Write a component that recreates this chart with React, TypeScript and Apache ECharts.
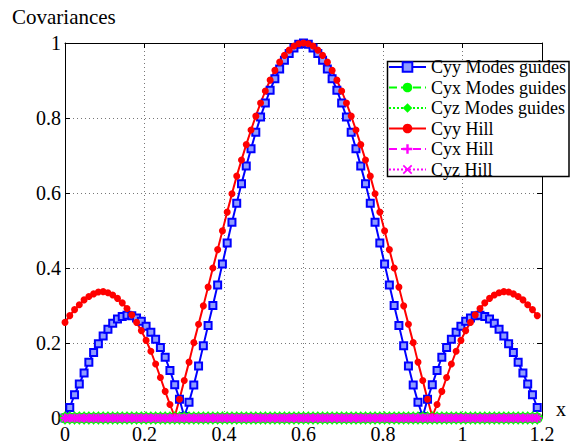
import React, { useEffect, useRef } from "react";
import * as echarts from "echarts";

const xs = [
  0, 0.012, 0.024, 0.036, 0.048, 0.06, 0.072, 0.084, 0.096, 0.108, 0.12, 0.132, 0.144, 0.156, 0.168, 0.18, 0.192, 0.204, 0.216, 0.228,
  0.24, 0.252, 0.264, 0.276, 0.288, 0.3, 0.312, 0.324, 0.336, 0.348, 0.36, 0.372, 0.384, 0.396, 0.408, 0.42, 0.432, 0.444, 0.456, 0.468,
  0.48, 0.492, 0.504, 0.516, 0.528, 0.54, 0.552, 0.564, 0.576, 0.588, 0.6, 0.612, 0.624, 0.636, 0.648, 0.66, 0.672, 0.684, 0.696, 0.708,
  0.72, 0.732, 0.744, 0.756, 0.768, 0.78, 0.792, 0.804, 0.816, 0.828, 0.84, 0.852, 0.864, 0.876, 0.888, 0.9, 0.912, 0.924, 0.936, 0.948,
  0.96, 0.972, 0.984, 0.996, 1.008, 1.02, 1.032, 1.044, 1.056, 1.068, 1.08, 1.092, 1.104, 1.116, 1.128, 1.14, 1.152, 1.164, 1.176, 1.188,
];

const cyyModes = [
  0, 0.028, 0.062, 0.091, 0.12, 0.149, 0.175, 0.198, 0.219, 0.237, 0.253, 0.264, 0.271, 0.274, 0.273, 0.267, 0.258, 0.245, 0.229, 0.21,
  0.188, 0.162, 0.127, 0.089, 0.05, 0.004, 0.042, 0.088, 0.139, 0.193, 0.247, 0.3, 0.355, 0.411, 0.467, 0.522, 0.573, 0.625, 0.672, 0.718,
  0.762, 0.803, 0.84, 0.874, 0.905, 0.931, 0.954, 0.972, 0.987, 0.997, 1.0, 0.997, 0.987, 0.972, 0.954, 0.931, 0.905, 0.874, 0.84, 0.803,
  0.762, 0.718, 0.672, 0.625, 0.573, 0.522, 0.467, 0.411, 0.355, 0.3, 0.247, 0.193, 0.139, 0.088, 0.042, 0.004, 0.05, 0.089, 0.127, 0.162,
  0.188, 0.21, 0.229, 0.245, 0.258, 0.267, 0.273, 0.274, 0.271, 0.264, 0.253, 0.237, 0.219, 0.198, 0.175, 0.149, 0.12, 0.091, 0.062, 0.028,
];

const cyyHill = [
  0.255, 0.273, 0.289, 0.302, 0.315, 0.324, 0.331, 0.336, 0.337, 0.334, 0.328, 0.319, 0.307, 0.292, 0.275, 0.255, 0.233, 0.207, 0.178, 0.144,
  0.108, 0.071, 0.036, 0.004, 0.05, 0.1, 0.149, 0.201, 0.25, 0.299, 0.349, 0.4, 0.449, 0.499, 0.549, 0.598, 0.645, 0.688, 0.729, 0.768,
  0.805, 0.84, 0.872, 0.901, 0.927, 0.949, 0.967, 0.981, 0.992, 0.998, 1.0, 0.998, 0.992, 0.981, 0.967, 0.949, 0.927, 0.901, 0.872, 0.84,
  0.805, 0.768, 0.729, 0.688, 0.645, 0.598, 0.549, 0.499, 0.449, 0.4, 0.349, 0.299, 0.25, 0.201, 0.149, 0.1, 0.05, 0.004, 0.036, 0.071,
  0.108, 0.144, 0.178, 0.207, 0.233, 0.255, 0.275, 0.292, 0.307, 0.319, 0.328, 0.334, 0.337, 0.336, 0.331, 0.324, 0.315, 0.302, 0.289, 0.273,
];

const zeroValues = [
  0, 0, 0, 0, 0, 0, 0, 0, 0, 0, 0, 0, 0, 0, 0, 0, 0, 0, 0, 0,
  0, 0, 0, 0, 0, 0, 0, 0, 0, 0, 0, 0, 0, 0, 0, 0, 0, 0, 0, 0,
  0, 0, 0, 0, 0, 0, 0, 0, 0, 0, 0, 0, 0, 0, 0, 0, 0, 0, 0, 0,
  0, 0, 0, 0, 0, 0, 0, 0, 0, 0, 0, 0, 0, 0, 0, 0, 0, 0, 0, 0,
  0, 0, 0, 0, 0, 0, 0, 0, 0, 0, 0, 0, 0, 0, 0, 0, 0, 0, 0, 0,
];
const cyxModes = zeroValues;
const cyzModes = zeroValues;
const cyxHill = zeroValues;
const cyzHill = zeroValues;

const seriesNames = [
  "Cyy Modes guides",
  "Cyx Modes guides",
  "Cyz Modes guides",
  "Cyy Hill",
  "Cyx Hill",
  "Cyz Hill",
];

const FONT = "'Times New Roman', 'Liberation Serif', serif";
const PLUS = "path://M-1,-4L1,-4L1,-1L4,-1L4,1L1,1L1,4L-1,4L-1,1L-4,1L-4,-1L-1,-1Z";
const CROSS = "path://M-3,-4L0,-1L3,-4L4,-3L1,0L4,3L3,4L0,1L-3,4L-4,3L-1,0L-4,-3Z";

const pairs = (ys: number[]) => xs.map((x, i) => [x, ys[i]]);

export default function App() {
  const ref = useRef<HTMLDivElement>(null);
  useEffect(() => {
    if (!ref.current) return;
    const chart = echarts.init(ref.current, null, { renderer: "svg" });
    const axisLine = { onZero: false, lineStyle: { color: "#000", width: 1 } };
    const axisTick = { inside: true, length: 5, lineStyle: { color: "#000", width: 1 } };
    const splitLine = { show: true, lineStyle: { type: [1, 3], color: "#777", width: 1 } };
    const base = {
      type: "line",
      showAllSymbol: true,
      clip: false,
      animation: false,
    };
    chart.setOption({
      animation: false,
      backgroundColor: "#fff",
      grid: { left: 65, right: 35, top: 43, bottom: 29 },
      xAxis: [
        {
          type: "value", min: 0, max: 1.2, interval: 0.2, position: "bottom",
          axisLine, axisTick,
          axisLabel: { fontFamily: FONT, fontSize: 20, color: "#000", margin: 6 },
          splitLine,
        },
        {
          type: "value", min: 0, max: 1.2, interval: 0.2, position: "top",
          axisLine, axisTick, axisLabel: { show: false }, splitLine: { show: false },
        },
      ],
      yAxis: [
        {
          type: "value", min: 0, max: 1, interval: 0.2, position: "left",
          axisLine, axisTick,
          axisLabel: { fontFamily: FONT, fontSize: 20, color: "#000", margin: 4 },
          splitLine,
        },
        {
          type: "value", min: 0, max: 1, interval: 0.2, position: "right",
          axisLine, axisTick, axisLabel: { show: false }, splitLine: { show: false },
        },
      ],
      legend: {
        orient: "vertical",
        left: 388,
        top: 57,
        padding: 0,
        itemWidth: 37,
        itemHeight: 12,
        itemGap: 0.5,
        z: 4,
        data: seriesNames,
        textStyle: { fontFamily: FONT, fontSize: 18, color: "#000", lineHeight: 20 },
      },
      graphic: [
        {
          type: "rect", z: 3,
          shape: { x: 387.5, y: 61.5, width: 181.5, height: 115 },
          style: { fill: "#fff", stroke: "#000", lineWidth: 1.5 },
        },
        {
          type: "text", left: 12, top: 6,
          style: { text: "Covariances", fontFamily: FONT, fontSize: 21, fill: "#000" },
        },
        {
          type: "text", left: 556, top: 399,
          style: { text: "x", fontFamily: FONT, fontSize: 20, fill: "#000" },
        },
      ],
      series: [
        {
          ...base, name: seriesNames[0], data: pairs(cyyModes),
          symbol: "rect", symbolSize: 7, z: 2,
          lineStyle: { color: "#0000ff", width: 2 },
          itemStyle: { color: "#8f9cff", borderColor: "#0000ff", borderWidth: 2 },
        },
        {
          ...base, name: seriesNames[1], data: pairs(cyxModes),
          symbol: "circle", symbolSize: 11, z: 2,
          lineStyle: { color: "#00ff00", width: 2, type: "dashed" },
          itemStyle: { color: "#00ff00" },
        },
        {
          ...base, name: seriesNames[2], data: pairs(cyzModes),
          symbol: "diamond", symbolSize: [9, 14], z: 2,
          lineStyle: { color: "#00ff00", width: 2, type: "dotted" },
          itemStyle: { color: "#00ff00" },
        },
        {
          ...base, name: seriesNames[3], data: pairs(cyyHill),
          symbol: "circle", symbolSize: 7, z: 2,
          lineStyle: { color: "#ff0000", width: 2 },
          itemStyle: { color: "#ff0000" },
        },
        {
          ...base, name: seriesNames[4], data: pairs(cyxHill),
          symbol: PLUS, symbolSize: 9, z: 2,
          lineStyle: { color: "#ff00ff", width: 2, type: "dashed" },
          itemStyle: { color: "#ff00ff" },
        },
        {
          ...base, name: seriesNames[5], data: pairs(cyzHill),
          symbol: CROSS, symbolSize: 8, z: 2,
          lineStyle: { color: "#ff00ff", width: 2, type: "dotted" },
          itemStyle: { color: "#ff00ff" },
        },
      ],
    });
    return () => chart.dispose();
  }, []);
  return (
    <div
      ref={ref}
      style={{ position: "fixed", left: 0, top: 0, width: 577, height: 447 }}
    />
  );
}
